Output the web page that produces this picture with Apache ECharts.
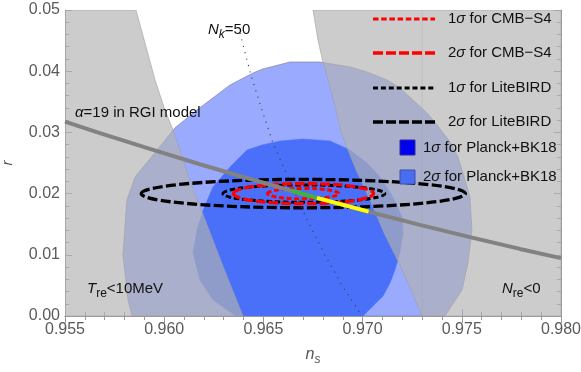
<!DOCTYPE html>
<html><head><meta charset="utf-8">
<script src="https://cdn.jsdelivr.net/npm/echarts@6/dist/echarts.min.js"></script>
<style>html,body{margin:0;padding:0;background:#fff}#c{width:581px;height:372px}</style>
</head><body><div id="c"></div>
<script>
// ---------- data ----------
const xTickLabels = ['0.955','0.960','0.965','0.970','0.975','0.980'];
const yTickLabels = ['0.00','0.01','0.02','0.03','0.04','0.05'];

// Planck+BK18 2 sigma contour
const planck2Ns = [0.95838,0.95818,0.95792,0.95812,0.95853,0.95964,0.96054,0.96165,0.96332,0.96448,0.96498,0.96634,0.96785,0.96937,0.97022,0.97123,0.97188,0.97254,0.97325,0.97375,0.97441,0.97481,0.97516,0.97541,0.97551,0.97531,0.97501,0.97451,0.97415];
const planck2R  = [0,0.00261,0.00997,0.01895,0.02271,0.02712,0.03072,0.03366,0.03775,0.03971,0.04036,0.0415,0.0415,0.04069,0.03987,0.03856,0.03726,0.0353,0.03317,0.03121,0.02843,0.02598,0.02222,0.01944,0.01405,0.00866,0.00425,0.0018,0];
// Planck+BK18 1 sigma contour
const planck1Ns = [0.96362,0.96332,0.96246,0.96180,0.96145,0.96165,0.96196,0.96246,0.96332,0.96417,0.96493,0.96584,0.96700,0.96836,0.96937,0.97022,0.97088,0.97153,0.97199,0.97204,0.97188,0.97163,0.97138,0.97103,0.97052,0.97002];
const planck1R  = [0,0.00065,0.00261,0.00588,0.01029,0.01405,0.01732,0.02108,0.02435,0.02712,0.02794,0.0286,0.02892,0.0286,0.02712,0.025,0.02271,0.01944,0.01618,0.01356,0.01029,0.00752,0.00539,0.00327,0.00163,0];
// excluded region T_re < 10 MeV (left)
const leftExclNs = [0.955,0.95858,0.95906,0.95954,0.96004,0.96054,0.96095,0.96145,0.96195,0.96296,0.96397,0.955];
const leftExclR  = [0.05,0.05,0.04428,0.03856,0.03366,0.0296,0.02549,0.02092,0.01667,0.00817,0,0];
// excluded region N_re < 0 (right)
const rightExclNs = [0.9675,0.96775,0.968,0.96841,0.96896,0.96967,0.97037,0.97113,0.97188,0.97249,0.97299,0.980,0.980];
const rightExclR  = [0.05,0.0451,0.0415,0.03693,0.02958,0.02386,0.01895,0.01324,0.00833,0.00392,0,0,0.05];
// alpha=19 RGI model prediction
const rgiNs = [0.955,0.95676,0.95928,0.9618,0.96382,0.96649,0.9677,0.97027,0.97289,0.97541,0.97793,0.980];
const rgiR  = [0.03175,0.02988,0.0273,0.0248,0.02287,0.02039,0.01931,0.01708,0.01489,0.01288,0.01096,0.00946];
const greenNs = [0.9664,0.9677];
const greenR  = [0.0205,0.01931];
const yellowNs = [0.9677,0.9703];
const yellowR  = [0.01931,0.01706];
// N_k = 50 line
const nkNs = [0.96382,0.96437,0.96493,0.96548,0.96604,0.96664,0.96725,0.9681,0.96901,0.96997];
const nkR  = [0.04624,0.03938,0.03366,0.02827,0.02418,0.01977,0.01536,0.00997,0.00474,0];
// forecast ellipses: centre and semi-axes
const ellipseNames  = ['2σ for LiteBIRD','1σ for LiteBIRD','2σ for CMB−S4','1σ for CMB−S4'];
const ellipseNs     = [0.96701,0.96704,0.96702,0.96700];
const ellipseR      = [0.02000,0.02000,0.02000,0.02000];
const ellipseSemiNs = [0.00817,0.00408,0.00353,0.00180];
const ellipseSemiR  = [0.00232,0.00142,0.00165,0.00085];

// ---------- chart ----------
const FONT = "'Liberation Sans', Arial, sans-serif";
const chart = echarts.init(document.getElementById('c'), null, {renderer:'canvas'});

function polySeries(name, nsArr, rArr, style, z) {
  return {
    type:'custom', name, coordinateSystem:'cartesian2d', xAxisIndex:0, yAxisIndex:0,
    z, silent:true, clip:true,
    data: nsArr.map((x,i)=>[x, rArr[i]]),
    renderItem(params, api){
      if (params.dataIndex !== 0) return null;
      const pts = nsArr.map((x,i)=>api.coord([x, rArr[i]]));
      return {type:'polygon', shape:{points:pts}, style};
    }
  };
}
function ellipseSeries(i, style, z) {
  return {
    type:'custom', name: ellipseNames[i], coordinateSystem:'cartesian2d', z, silent:true,
    data: [[ellipseNs[i], ellipseR[i], ellipseSemiNs[i], ellipseSemiR[i]]],
    renderItem(params, api){
      const c = api.coord([api.value(0), api.value(1)]);
      const s = api.size([api.value(2), api.value(3)]);
      return {type:'ellipse', shape:{cx:c[0], cy:c[1], rx:s[0], ry:s[1]},
              style:Object.assign({fill:'none'}, style)};
    }
  };
}
function lineSeries(name, nsArr, rArr, lineStyle, z) {
  return {type:'line', name, data: nsArr.map((x,i)=>[x, rArr[i]]), showSymbol:false, symbol:'none',
          silent:true, z, lineStyle, animation:false};
}

const axisCommon = {
  type:'value', axisLine:{show:true, lineStyle:{color:'#9a9a9a', width:1}},
  axisTick:{show:true, inside:true, length:7, lineStyle:{color:'#9a9a9a'}},
  minorTick:{show:true, splitNumber:5, length:4, lineStyle:{color:'#9a9a9a'}},
  splitLine:{show:false}, minorSplitLine:{show:false}
};

const option = {
  animation:false,
  backgroundColor:'#ffffff',
  grid:{left:65, right:20, top:10, bottom:56, containLabel:false, outerBoundsMode:'none'},
  xAxis:[
    Object.assign({}, axisCommon, {min:0.955, max:0.980, interval:0.005, position:'bottom',
      name:'{i|n}{s|s}', nameLocation:'middle', nameGap:28,
      nameTextStyle:{fontFamily:FONT, color:'#555', rich:{i:{fontStyle:'italic', fontSize:16, fontFamily:FONT, color:'#555', lineHeight:22, verticalAlign:'middle'}, s:{fontStyle:'italic', fontSize:12, fontFamily:FONT, color:'#555', lineHeight:12, verticalAlign:'bottom'}}},
      axisLabel:{show:true, margin:6, fontSize:16, fontFamily:FONT, color:'#5a5a5a',
        formatter:(v)=>xTickLabels[Math.round((v-0.955)/0.005)]}}),
    Object.assign({}, axisCommon, {min:0.955, max:0.980, interval:0.005, position:'top', axisLabel:{show:false}})
  ],
  yAxis:[
    Object.assign({}, axisCommon, {min:0, max:0.05, interval:0.01, position:'left',
      name:'r', nameLocation:'middle', nameGap:50, nameRotate:90,
      nameTextStyle:{fontStyle:'italic', fontSize:15, fontFamily:FONT, color:'#555'},
      axisLabel:{show:true, margin:5, fontSize:16, fontFamily:FONT, color:'#5a5a5a',
        formatter:(v)=>yTickLabels[Math.round(v/0.01)]}}),
    Object.assign({}, axisCommon, {min:0, max:0.05, interval:0.01, position:'right', axisLabel:{show:false}})
  ],
  series:[
    polySeries('2σ for Planck+BK18', planck2Ns, planck2R, {fill:'rgb(153,170,255)', stroke:'rgba(130,130,160,0.7)', lineWidth:1}, 1),
    polySeries('1σ for Planck+BK18', planck1Ns, planck1R, {fill:'rgb(74,112,250)', stroke:'rgba(74,112,250,1)', lineWidth:0.5}, 2),
    polySeries('T_re<10MeV', leftExclNs, leftExclR, {fill:'rgba(178,178,178,0.667)', stroke:'rgba(160,160,160,0.6)', lineWidth:1}, 3),
    polySeries('N_re<0', rightExclNs, rightExclR, {fill:'rgba(178,178,178,0.667)', stroke:'rgba(160,160,160,0.6)', lineWidth:1}, 3),
    lineSeries('seam', [0.973,0.973], [0,0.05], {color:'rgba(150,150,150,0.22)', width:1}, 4),
    ellipseSeries(0, {stroke:'#000', lineWidth:3.3, lineDash:[10,3.3]}, 5),
    ellipseSeries(1, {stroke:'#000', lineWidth:3, lineDash:[5.5,2.7]}, 6),
    ellipseSeries(2, {stroke:'#ff0000', lineWidth:3.3, lineDash:[9.5,3.2]}, 7),
    ellipseSeries(3, {stroke:'#ff0000', lineWidth:3, lineDash:[5,2.6]}, 8),
    lineSeries('N_k=50', nkNs, nkR, {color:'#3a3a3a', width:1.1, type:[1.1,5.5]}, 9),
    lineSeries('α=19 in RGI model', rgiNs, rgiR, {color:'#828282', width:4}, 10),
    lineSeries('green', greenNs, greenR, {color:'#3fb23f', width:4}, 11),
    lineSeries('yellow', yellowNs, yellowR, {color:'#ffff00', width:4}, 11)
  ],
  graphic:[
    // legend
    {type:'line', z:100, shape:{x1:373,y1:19,x2:435,y2:19}, style:{stroke:'#ff0000', lineWidth:3, lineDash:[5.5,2.7]}},
    {type:'line', z:100, shape:{x1:373,y1:53,x2:435,y2:53}, style:{stroke:'#ff0000', lineWidth:3.3, lineDash:[10,3]}},
    {type:'line', z:100, shape:{x1:373,y1:88,x2:435,y2:88}, style:{stroke:'#000', lineWidth:3, lineDash:[5,2.9]}},
    {type:'line', z:100, shape:{x1:373,y1:122,x2:435,y2:122}, style:{stroke:'#000', lineWidth:3.3, lineDash:[10,3]}},
    {type:'rect', z:100, shape:{x:400,y:140,width:15,height:15}, style:{fill:'#0000f0', stroke:'#2a2a9a', lineWidth:1}},
    {type:'rect', z:100, shape:{x:400,y:170,width:15,height:14}, style:{fill:'#4a6cf0', stroke:'#3a50a8', lineWidth:1}},
    {type:'text', z:100, x:448, y:19, style:{text:'1{i|σ} for CMB−S4', fontSize:15, fontFamily:FONT, fill:'#111', verticalAlign:'middle', rich:{i:{fontStyle:'italic', fontSize:15, fontFamily:FONT, fill:'#111'}}}},
    {type:'text', z:100, x:448, y:53, style:{text:'2{i|σ} for CMB−S4', fontSize:15, fontFamily:FONT, fill:'#111', verticalAlign:'middle', rich:{i:{fontStyle:'italic', fontSize:15, fontFamily:FONT, fill:'#111'}}}},
    {type:'text', z:100, x:448, y:88, style:{text:'1{i|σ} for LiteBIRD', fontSize:15, fontFamily:FONT, fill:'#111', verticalAlign:'middle', rich:{i:{fontStyle:'italic', fontSize:15, fontFamily:FONT, fill:'#111'}}}},
    {type:'text', z:100, x:448, y:122, style:{text:'2{i|σ} for LiteBIRD', fontSize:15, fontFamily:FONT, fill:'#111', verticalAlign:'middle', rich:{i:{fontStyle:'italic', fontSize:15, fontFamily:FONT, fill:'#111'}}}},
    {type:'text', z:100, x:423, y:148, style:{text:'1{i|σ} for Planck+BK18', fontSize:15, fontFamily:FONT, fill:'#111', verticalAlign:'middle', rich:{i:{fontStyle:'italic', fontSize:15, fontFamily:FONT, fill:'#111'}}}},
    {type:'text', z:100, x:423, y:177, style:{text:'2{i|σ} for Planck+BK18', fontSize:15, fontFamily:FONT, fill:'#111', verticalAlign:'middle', rich:{i:{fontStyle:'italic', fontSize:15, fontFamily:FONT, fill:'#111'}}}},
    // annotations
    {type:'text', z:100, x:75, y:113, style:{text:'{i|α}=19 in RGI model', fontSize:15, fontFamily:FONT, fill:'#111', verticalAlign:'middle', rich:{i:{fontStyle:'italic', fontSize:15, fontFamily:FONT, fill:'#111'}}}},
    {type:'text', z:100, x:208, y:30, style:{text:'{i|N}{s|k}{n|=50}', fontSize:15, fontFamily:FONT, fill:'#111', verticalAlign:'middle', rich:{i:{fontStyle:'italic', fontSize:15, fontFamily:FONT, fill:'#111', lineHeight:22, verticalAlign:'middle'}, s:{fontStyle:'italic', fontSize:12, fontFamily:FONT, fill:'#111', lineHeight:12, verticalAlign:'bottom'}, n:{fontSize:15, fontFamily:FONT, fill:'#111', lineHeight:22, verticalAlign:'middle'}}}},
    {type:'text', z:100, x:87, y:289, style:{text:'{i|T}{s|re}{n|<10MeV}', fontSize:15, fontFamily:FONT, fill:'#111', verticalAlign:'middle', rich:{i:{fontStyle:'italic', fontSize:15, fontFamily:FONT, fill:'#111', lineHeight:22, verticalAlign:'middle'}, s:{fontSize:12, fontFamily:FONT, fill:'#111', lineHeight:12, verticalAlign:'bottom'}, n:{fontSize:15, fontFamily:FONT, fill:'#111', lineHeight:22, verticalAlign:'middle'}}}},
    {type:'text', z:100, x:502, y:289, style:{text:'{i|N}{s|re}{n|<0}', fontSize:15, fontFamily:FONT, fill:'#111', verticalAlign:'middle', rich:{i:{fontStyle:'italic', fontSize:15, fontFamily:FONT, fill:'#111', lineHeight:22, verticalAlign:'middle'}, s:{fontSize:12, fontFamily:FONT, fill:'#111', lineHeight:12, verticalAlign:'bottom'}, n:{fontSize:15, fontFamily:FONT, fill:'#111', lineHeight:22, verticalAlign:'middle'}}}}
  ]
};
chart.setOption(option);
</script></body></html>
